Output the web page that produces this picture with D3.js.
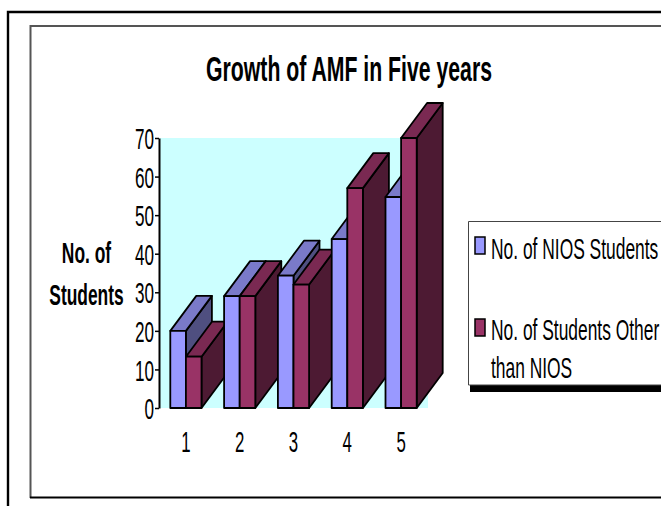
<!DOCTYPE html>
<html>
<head>
<meta charset="utf-8">
<script src="https://cdn.jsdelivr.net/npm/d3@7"></script>
<style>
html,body{margin:0;padding:0;background:#fff;overflow:hidden}
text{font-family:"Liberation Sans",Arial,sans-serif;fill:#000}
</style>
</head>
<body>
<svg id="chart" width="661" height="506"></svg>
<script>
const categories = ['1','2','3','4','5']
const niosValues = [20,29,34.3,43.8,54.7]
const otherValues = [13.3,29,32,57,70]
const yTicks = [0,10,20,30,40,50,60,70]

const svg = d3.select('#chart')

const xScale = d3.scaleBand().domain(categories).range([159,428]).paddingInner(0.42).paddingOuter(0.21)
const serScale = d3.scaleBand().domain([0,1]).range([0,xScale.bandwidth()])
const yScale = d3.scaleLinear().domain([0,70]).range([408,138])

const depthX = 26
const depthY = 35

// squeeze text sideways around its anchor, the original is a stretched wmf
const squeeze = (sel,f) => sel.each(function(){
    const t = d3.select(this)
    const x = +t.attr('x') || 0
    const y = +t.attr('y') || 0
    t.attr('x',0).attr('y',0).attr('transform',`translate(${x},${y}) scale(${f},1)`)
})

// outer frames
svg.append('path').attr('d','M8,506V12H661').attr('fill','none').attr('stroke','#000').attr('stroke-width',2.4)
svg.append('path').attr('d','M30.5,498V26H661').attr('fill','none').attr('stroke','#555').attr('stroke-width',2)
svg.append('path').attr('d','M30,497.5H661').attr('fill','none').attr('stroke','#000').attr('stroke-width',2)

// title
svg.append('text').attr('x',349).attr('y',81).attr('text-anchor','middle')
    .attr('font-size',36).attr('font-weight','bold').text('Growth of AMF in Five years').call(squeeze,0.59)

// back wall
svg.append('rect').attr('x',159).attr('y',138).attr('width',269).attr('height',270).attr('fill','#CCFFFF')

// y axis
const yAxis = svg.append('g').attr('transform','translate(159,0)')
    .call(d3.axisLeft(yScale).tickValues(yTicks).tickSize(4).tickSizeOuter(0))
yAxis.select('.domain').attr('stroke','#000').attr('stroke-width',2)
yAxis.selectAll('.tick line').attr('stroke','#000').attr('stroke-width',1.5)
yAxis.selectAll('text').attr('font-size',29.5).attr('font-family',null).attr('x',-5).attr('dy','0.36em').call(squeeze,0.58)

// x labels
const xAxis = svg.append('g').attr('transform','translate(0,408)')
    .call(d3.axisBottom(xScale).tickSize(0).tickPadding(23.4))
xAxis.select('.domain').remove()
xAxis.selectAll('text').attr('font-size',29).attr('font-family',null).call(squeeze,0.58)

// bars, left to right so nearer groups cover the sides
const series = [
    {values:niosValues,front:'#9999FF',top:'#7A7AC9',side:'#4F4F80'},
    {values:otherValues,front:'#993366',top:'#7A2952',side:'#4D1A33'}
]
categories.forEach((c,i) => {
    series.forEach((s,j) => {
        const x0 = xScale(c)+serScale(j)
        const x1 = x0+serScale.bandwidth()
        const y1 = yScale(s.values[i])
        const y0 = yScale(0)
        const g = svg.append('g').attr('stroke','#000').attr('stroke-width',1.8).attr('stroke-linejoin','round')
        g.append('path').attr('fill',s.side)
            .attr('d',d3.line()([[x1,y0],[x1+depthX,y0-depthY],[x1+depthX,y1-depthY],[x1,y1]])+'Z')
        g.append('path').attr('fill',s.top)
            .attr('d',d3.line()([[x0,y1],[x0+depthX,y1-depthY],[x1+depthX,y1-depthY],[x1,y1]])+'Z')
        g.append('rect').attr('x',x0).attr('y',y1).attr('width',x1-x0).attr('height',y0-y1).attr('fill',s.front)
    })
})

// y title
svg.append('text').attr('x',86.5).attr('y',263).attr('text-anchor','middle').attr('font-size',29)
    .attr('font-weight','bold').text('No. of').call(squeeze,0.6)
svg.append('text').attr('x',86.5).attr('y',305).attr('text-anchor','middle').attr('font-size',29)
    .attr('font-weight','bold').text('Students').call(squeeze,0.6)

// legend
svg.append('rect').attr('x',470).attr('y',385).attr('width',191).attr('height',7).attr('fill','#000')
svg.append('path').attr('d','M661,221.5H468.5V385H661').attr('fill','#fff').attr('stroke','#444').attr('stroke-width',1)
const legendRows = [
    {lines:['No. of NIOS Students'],ys:[259],sw:237,color:'#9999FF'},
    {lines:['No. of Students Other','than NIOS'],ys:[340,378],sw:319,color:'#993366'}
]
legendRows.forEach(r => {
    svg.append('rect').attr('x',475).attr('y',r.sw).attr('width',10).attr('height',17)
        .attr('fill',r.color).attr('stroke','#000').attr('stroke-width',1.5)
    r.lines.forEach((l,k) => {
        svg.append('text').attr('x',491).attr('y',r.ys[k]).attr('font-size',30).text(l).call(squeeze,0.58)
    })
})
</script>
</body>
</html>
